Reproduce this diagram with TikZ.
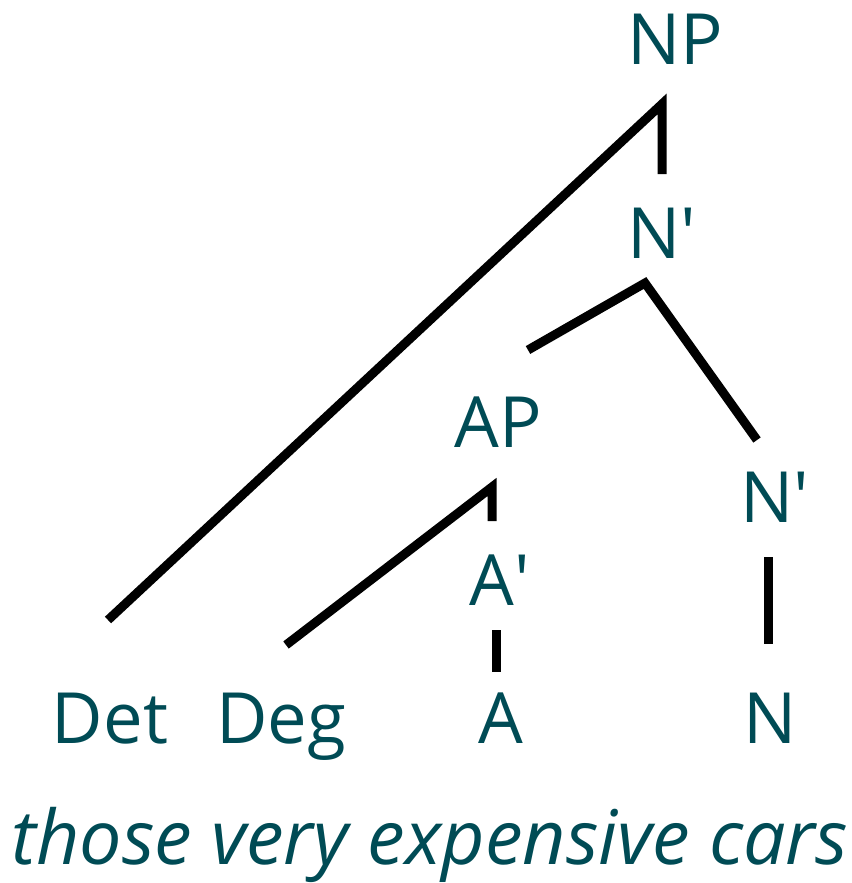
\documentclass[tikz,border=0pt]{standalone}
\usepackage{fontspec}
\setmainfont{Open Sans}
\usetikzlibrary{positioning,calc}
\definecolor{treeteal}{RGB}{0,75,85}

\begin{document}
\begin{tikzpicture}[x=0.75pt,y=-0.75pt,
  cat/.style={text=treeteal,font=\fontsize{53}{60}\selectfont,anchor=base,inner sep=0pt},
  branch/.style={draw=black,line width=6.75pt,line join=miter}]
\useasboundingbox (0,0) rectangle (852,883);
% categories
\node[cat] (NP) at (675,64) {NP};
\node[cat] (Nbar) at (662,258) {N\textquotesingle};
\node[cat] (AP) at (498,447) {AP};
\node[cat] (Nbar2) at (775,522) {N\textquotesingle};
\node[cat] (Abar) at (500,605) {A\textquotesingle};
\node[cat] (Det) at (110,743) {Det};
\node[cat] (Deg) at (281,743) {Deg};
\node[cat] (A) at (501,743) {A};
\node[cat] (N) at (770,743) {N};
\node[cat,font=\fontsize{56.5}{60}\itshape] (gloss) at (430,864) {those very expensive cars};
% branch ends
\coordinate (NPtop) at (662,104);
\coordinate (NPdown) at (662,174);
\coordinate (Dettop) at (108,620);
\coordinate (Nbartop) at (645,283);
\coordinate (Nbarleft) at (528,350);
\coordinate (Nbarright) at (757,440);
\coordinate (APtop) at (492,487);
\coordinate (APdown) at (492,521);
\coordinate (Degtop) at (286,645);
\coordinate (Abardown) at (496,630);
\coordinate (Atop) at (496,672);
\coordinate (Nbartwodown) at (768,557);
\coordinate (Ntop) at (768,644);
% branches
\draw[branch] (Dettop) -- (NPtop) -- (NPdown);
\draw[branch] (Nbarleft) -- (Nbartop) -- (Nbarright);
\draw[branch] (Degtop) -- (APtop) -- (APdown);
\draw[branch] (Abardown) -- (Atop);
\draw[branch] (Nbartwodown) -- (Ntop);
\end{tikzpicture}
\end{document}
